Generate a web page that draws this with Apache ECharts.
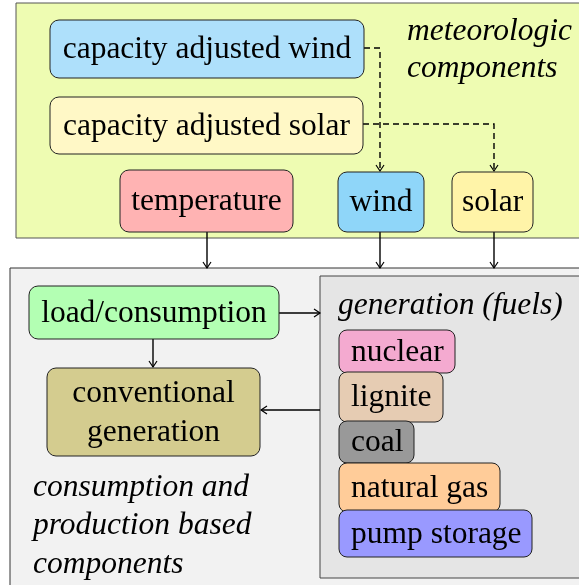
<!DOCTYPE html>
<html>
<head>
<meta charset="utf-8">
<script src="https://cdn.jsdelivr.net/npm/echarts@6/dist/echarts.min.js"></script>
<style>
  html, body { margin: 0; padding: 0; background: #fff; }
  #chart { width: 579px; height: 585px; }
</style>
</head>
<body>
<div id="chart"></div>
<script>
// labels of the diagram
var meteoInputs = ['capacity adjusted wind', 'capacity adjusted solar']
var meteoNodes = ['temperature', 'wind', 'solar']
var consumptionNodes = ['load/consumption', 'conventional\ngeneration']
var fuels = ['nuclear', 'lignite', 'coal', 'natural gas', 'pump storage']
var groupTitles = ['meteorologic\ncomponents', 'generation (fuels)', 'consumption and\nproduction based\ncomponents']

var FONT = 'Liberation Serif'
var SIZE = 31.5
var myChart = echarts.init(document.getElementById('chart'))

var els = []

function box (x, y, w, h, fill, label, lh) {
  els.push({
    type: 'rect',
    shape: { x: x, y: y, width: w, height: h, r: 9 },
    style: { fill: fill, stroke: '#222', lineWidth: 1 }
  })
  els.push({
    type: 'text',
    x: x + w / 2,
    y: y + h / 2 + 1,
    style: {
      text: label,
      fontFamily: FONT,
      fontSize: SIZE,
      fill: '#000',
      align: 'center',
      verticalAlign: 'middle',
      lineHeight: lh || 34
    }
  })
}

function leftBox (x, y, w, h, fill, label) {
  els.push({
    type: 'rect',
    shape: { x: x, y: y, width: w, height: h, r: 8 },
    style: { fill: fill, stroke: '#222', lineWidth: 1 }
  })
  els.push({
    type: 'text',
    x: x + 12,
    y: y + h / 2 + 1,
    style: {
      text: label,
      fontFamily: FONT,
      fontSize: SIZE,
      fill: '#000',
      align: 'left',
      verticalAlign: 'middle'
    }
  })
}

function line (pts, dashed) {
  els.push({
    type: 'polyline',
    shape: { points: pts },
    style: { stroke: '#000', lineWidth: 1.4, fill: null, lineDash: dashed ? [6, 4] : null }
  })
}

// small open arrow head at (x, y), pointing dir
function head (x, y, dir) {
  var p
  if (dir === 'down') p = [[x - 4, y - 6], [x, y], [x + 4, y - 6]]
  else if (dir === 'right') p = [[x - 6, y - 4], [x, y], [x - 6, y + 4]]
  else p = [[x + 6, y - 4], [x, y], [x + 6, y + 4]]
  els.push({
    type: 'polyline',
    shape: { points: p },
    style: { stroke: '#000', lineWidth: 1.2, fill: null }
  })
}

function italic (x, y, text, lh) {
  els.push({
    type: 'text',
    x: x,
    y: y,
    style: {
      text: text,
      fontFamily: FONT,
      fontStyle: 'italic',
      fontSize: SIZE,
      fill: '#000',
      align: 'left',
      verticalAlign: 'top',
      lineHeight: lh || 38
    }
  })
}

// group frames
els.push({ type: 'rect', shape: { x: 16, y: 3, width: 570, height: 235 },
  style: { fill: '#eefcb2', stroke: '#555', lineWidth: 1 } })
els.push({ type: 'rect', shape: { x: 10, y: 268, width: 580, height: 330 },
  style: { fill: '#f2f2f2', stroke: '#333', lineWidth: 1 } })
els.push({ type: 'rect', shape: { x: 320, y: 276, width: 270, height: 302 },
  style: { fill: '#e5e5e5', stroke: '#444', lineWidth: 1 } })

// arrows, drawn under boxes
line([[364, 48], [380, 48], [380, 171]], true)
head(380, 171, 'down')
line([[363, 124], [494, 124], [494, 171]], true)
head(494, 171, 'down')
line([[207, 232], [207, 268]]); head(207, 268, 'down')
line([[380, 232], [380, 268]]); head(380, 268, 'down')
line([[494, 232], [494, 268]]); head(494, 268, 'down')
line([[279, 313], [320, 313]]); head(320, 313, 'right')
line([[153, 339], [153, 367]]); head(153, 367, 'down')
line([[320, 410], [261, 410]]); head(261, 410, 'left')

// meteorologic part
box(50, 20, 314, 58, '#aee0fb', meteoInputs[0])
box(50, 97, 313, 57, '#fff8c6', meteoInputs[1])
box(120, 170, 173, 62, '#ffb3b3', meteoNodes[0])
box(338, 172, 86, 60, '#8fd6f9', meteoNodes[1])
box(452, 172, 81, 60, '#fff4a8', meteoNodes[2])
italic(407, 13, groupTitles[0], 37)

// consumption part
box(29, 286, 250, 53, '#b3ffb3', consumptionNodes[0])
box(47, 368, 213, 88, '#d4cc8f', consumptionNodes[1], 39)
italic(33, 468, groupTitles[2], 38.5)

// fuels
italic(338, 287, groupTitles[1])
var fuelFill = ['#f4aad0', '#e6ccb3', '#999999', '#ffcc99', '#9999ff']
var fuelBox = [[330, 116, 43], [372, 104, 50], [421, 75, 42], [463, 161, 49], [510, 193, 47]]
fuels.forEach(function (f, i) {
  leftBox(339, fuelBox[i][0], fuelBox[i][1], fuelBox[i][2], fuelFill[i], f)
})

myChart.setOption({
  animation: false,
  graphic: { elements: els }
})
</script>
</body>
</html>
